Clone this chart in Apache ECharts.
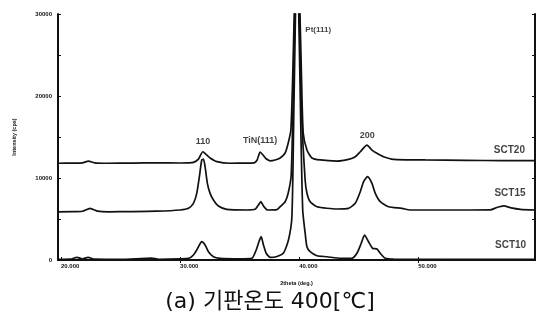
<!DOCTYPE html>
<html>
<head>
<meta charset="utf-8">
<script src="https://cdn.jsdelivr.net/npm/echarts@6/dist/echarts.min.js"></script>
<style>
  html, body { margin: 0; padding: 0; background: #fff; }
  #chart { width: 540px; height: 315px; }
</style>
</head>
<body>
<div id="chart"></div>
<script>
// [2theta, intensity]
const sct20 = [
  [19.8, 11800], [21.0, 11820], [21.8, 11850], [22.3, 12050], [22.8, 11850], [24.0, 11800],
  [26.0, 11820], [28.0, 11850], [30.0, 11830], [30.7, 11850], [31.12, 11900], [31.54, 12300],
  [31.91, 13200], [32.2, 12850], [32.52, 12440], [33.1, 11990], [34.2, 11800], [35.5, 11820],
  [36.2, 11850], [36.47, 12200], [36.72, 13170], [36.97, 12800], [37.2, 12380], [37.56, 12100],
  [37.98, 12200], [38.4, 12440], [38.82, 13050], [39.08, 14270], [39.3, 15850], [39.45, 22000],
  [39.6, 31000], [39.8, 42000], [40.05, 31000], [40.2, 22000], [40.34, 15490], [40.65, 13410],
  [41.07, 12440], [41.76, 12200], [43.17, 12070], [44.14, 12280], [44.71, 12600], [45.13, 13200],
  [45.69, 14020], [46.11, 13410], [46.53, 13010], [47.08, 12600], [47.92, 12280], [50.59, 12200],
  [54.0, 12150], [57.0, 12120], [59.8, 12110]
]
const sct15 = [
  [19.8, 5880], [21.0, 5890], [21.8, 5950], [22.44, 6300], [23.1, 5950], [24.0, 5880],
  [26.0, 5900], [28.0, 5950], [30.0, 6100], [30.7, 6300], [31.12, 6910], [31.4, 8130],
  [31.62, 10160], [31.82, 12200], [31.96, 12300], [32.1, 11380], [32.29, 9350], [32.52, 8130],
  [32.8, 7320], [33.22, 6590], [33.92, 6180], [35.6, 6100], [36.3, 6180], [36.58, 6710],
  [36.78, 7110], [37.0, 6590], [37.34, 6100], [38.13, 6150], [38.4, 6500], [38.82, 7110],
  [39.08, 8170], [39.33, 10370], [39.5, 20000], [39.65, 31000], [39.8, 40000], [40.0, 31000],
  [40.2, 18000], [40.5, 9760], [40.65, 8170], [40.92, 7110], [41.49, 6500], [43.17, 6220],
  [44.14, 6300], [44.71, 6910], [45.13, 8330], [45.41, 9550], [45.74, 10160], [46.11, 9350],
  [46.39, 8130], [46.81, 7110], [47.5, 6500], [48.63, 6300], [49.33, 6100], [52.7, 6100],
  [56.05, 6120], [56.6, 6400], [57.17, 6590], [57.8, 6350], [58.57, 6180], [59.8, 6100]
]
const sct10 = [
  [19.8, 80], [20.8, 100], [21.34, 330], [21.8, 120], [22.27, 330], [22.8, 100], [25.0, 80],
  [27.6, 230], [28.2, 90], [30.0, 150], [30.8, 250], [31.12, 610], [31.4, 1220], [31.62, 1830],
  [31.82, 2230], [32.1, 1830], [32.38, 1010], [32.8, 400], [33.36, 210], [35.0, 150],
  [36.03, 210], [36.39, 1220], [36.62, 2230], [36.81, 2840], [37.0, 1830], [37.23, 820],
  [37.56, 330], [38.07, 400], [38.68, 850], [39.1, 2440], [39.39, 5280], [39.55, 18000],
  [39.7, 31000], [39.78, 38000], [39.95, 31000], [40.15, 15000], [40.3, 6000], [40.5, 3290],
  [40.65, 1620], [40.92, 1010], [41.49, 520], [42.33, 400], [43.5, 200], [44.43, 210],
  [44.85, 820], [45.21, 2040], [45.49, 3050], [45.82, 2230], [46.16, 1430], [46.53, 1340],
  [46.81, 820], [47.23, 210], [47.92, 100], [52.0, 80], [56.0, 90], [59.8, 80]
]

const xTicks = [20, 30, 40, 50]
const peakNames = ['110', 'TiN(111)', 'Pt(111)', '200']
const peakAt = [[31.93, 14450], [36.72, 14630], [41.6, 28050], [45.71, 15180]]
const sampleNames = ['SCT20', 'SCT15', 'SCT10']
const sampleAt = [[57.65, 13410], [57.7, 8110], [57.75, 1770]]

const ink = '#111'
const chart = echarts.init(document.getElementById('chart'))

function curve(name, data) {
  return {
    name,
    type: 'line',
    data,
    smooth: 0.2,
    showSymbol: false,
    symbol: 'none',
    lineStyle: { color: ink, width: 1.7 },
    animation: false,
  }
}

const option = {
  backgroundColor: '#fff',
  textStyle: { fontFamily: "'Liberation Sans', Arial, sans-serif" },
  title: {
    text: '(a) 기판온도 400[℃]',
    left: 'center',
    top: 286,
    textStyle: {
      fontFamily: "'DejaVu Sans', 'Noto Sans CJK KR', sans-serif",
      fontSize: 22,
      fontWeight: 'normal',
      color: ink,
    },
  },
  grid: { left: 58, right: 5, top: 14, bottom: 55 },
  xAxis: [
    {
      type: 'value',
      min: 19.75,
      max: 59.8,
      position: 'bottom',
      name: '2theta (deg.)',
      nameLocation: 'middle',
      nameGap: 20,
      nameTextStyle: { fontSize: 5.5, fontWeight: 'bold', color: ink },
      axisLine: { show: true, lineStyle: { color: ink, width: 2 } },
      axisTick: { inside: true, length: 3, customValues: xTicks, lineStyle: { color: ink } },
      axisLabel: {
        customValues: xTicks,
        formatter: (v) => v.toFixed(3),
        fontSize: 6,
        fontWeight: 'bold',
        color: ink,
        align: 'left',
        margin: 3,
      },
      splitLine: { show: false },
    },
    {
      type: 'value',
      min: 19.75,
      max: 59.8,
      position: 'top',
      axisLine: { show: true, lineStyle: { color: ink, width: 2 } },
      axisTick: { inside: true, length: 3, customValues: [30, 50], lineStyle: { color: ink } },
      axisLabel: { show: false },
      splitLine: { show: false },
    },
  ],
  yAxis: [
    {
      type: 'value',
      min: 0,
      max: 30000,
      interval: 10000,
      name: 'Intensity (cps)',
      nameLocation: 'middle',
      nameGap: 41,
      nameTextStyle: { fontSize: 5.5, fontWeight: 'bold', color: ink },
      axisLine: { show: true, lineStyle: { color: ink, width: 2 } },
      axisTick: { show: true, inside: true, length: 3, lineStyle: { color: ink } },
      minorTick: { show: true, splitNumber: 2, length: 3, lineStyle: { color: ink } },
      axisLabel: { fontSize: 6, fontWeight: 'bold', color: ink, margin: 6, formatter: (v) => String(v) },
      splitLine: { show: false },
    },
    {
      type: 'value',
      min: 0,
      max: 30000,
      interval: 10000,
      position: 'right',
      axisLine: { show: true, lineStyle: { color: ink, width: 2 } },
      axisTick: { show: true, inside: true, length: 3, lineStyle: { color: ink } },
      minorTick: { show: true, splitNumber: 2, length: 3, lineStyle: { color: ink } },
      axisLabel: { show: false },
      splitLine: { show: false },
    },
  ],
  series: [
    curve('SCT20', sct20),
    curve('SCT15', sct15),
    curve('SCT10', sct10),
    {
      type: 'scatter',
      silent: true,
      symbolSize: 1,
      itemStyle: { color: 'rgba(0,0,0,0)' },
      label: { show: true, position: 'inside', formatter: '{b}', color: ink, fontSize: 9, fontWeight: 'bold' },
      data: peakNames.map((n, i) => ({
        name: n,
        value: peakAt[i],
        label: n === 'Pt(111)' ? { fontSize: 8 } : {},
      })),
      animation: false,
    },
    {
      type: 'scatter',
      silent: true,
      symbolSize: 1,
      itemStyle: { color: 'rgba(0,0,0,0)' },
      label: { show: true, position: 'inside', formatter: '{b}', color: ink, fontSize: 10, fontWeight: 'bold' },
      data: sampleNames.map((n, i) => ({ name: n, value: sampleAt[i] })),
      animation: false,
    },
  ],
}

chart.setOption(option)
</script>
</body>
</html>
